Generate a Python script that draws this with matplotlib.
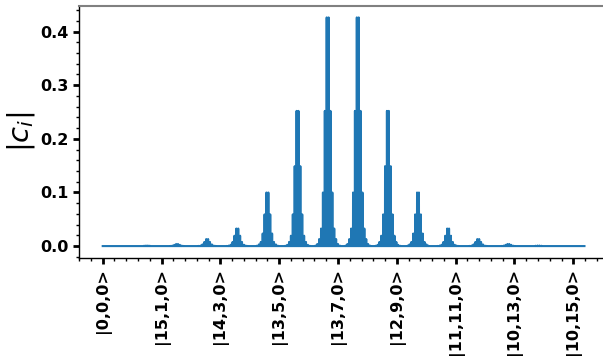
import numpy as np
import matplotlib
matplotlib.use("Agg")
import matplotlib.pyplot as plt
from matplotlib.ticker import AutoMinorLocator, MultipleLocator

# |c_i| for basis states |n1, n2, n3=0>, one row per n2 (0..15), entries over n1 (0..15)
abs_c_rows = [
    [0.0000, 0.0000, 0.0000, 0.0000, 0.0000, 0.0000, 0.0001, 0.0002, 0.0002, 0.0001, 0.0000, 0.0000, 0.0000, 0.0000, 0.0000, 0.0000],
    [0.0000, 0.0000, 0.0000, 0.0000, 0.0001, 0.0002, 0.0006, 0.0010, 0.0010, 0.0006, 0.0002, 0.0001, 0.0000, 0.0000, 0.0000, 0.0000],
    [0.0000, 0.0000, 0.0000, 0.0001, 0.0003, 0.0009, 0.0023, 0.0039, 0.0039, 0.0023, 0.0009, 0.0003, 0.0001, 0.0000, 0.0000, 0.0000],
    [0.0000, 0.0000, 0.0001, 0.0004, 0.0010, 0.0031, 0.0077, 0.0131, 0.0131, 0.0077, 0.0031, 0.0010, 0.0004, 0.0001, 0.0000, 0.0000],
    [0.0000, 0.0001, 0.0003, 0.0010, 0.0025, 0.0077, 0.0193, 0.0327, 0.0327, 0.0193, 0.0077, 0.0025, 0.0010, 0.0003, 0.0001, 0.0000],
    [0.0000, 0.0002, 0.0009, 0.0031, 0.0077, 0.0234, 0.0591, 0.0999, 0.0999, 0.0591, 0.0234, 0.0077, 0.0031, 0.0009, 0.0002, 0.0000],
    [0.0001, 0.0006, 0.0023, 0.0077, 0.0193, 0.0591, 0.1490, 0.2521, 0.2521, 0.1490, 0.0591, 0.0193, 0.0077, 0.0023, 0.0006, 0.0001],
    [0.0002, 0.0010, 0.0039, 0.0131, 0.0327, 0.0999, 0.2521, 0.4264, 0.4264, 0.2521, 0.0999, 0.0327, 0.0131, 0.0039, 0.0010, 0.0002],
    [0.0002, 0.0010, 0.0039, 0.0131, 0.0327, 0.0999, 0.2521, 0.4264, 0.4264, 0.2521, 0.0999, 0.0327, 0.0131, 0.0039, 0.0010, 0.0002],
    [0.0001, 0.0006, 0.0023, 0.0077, 0.0193, 0.0591, 0.1490, 0.2521, 0.2521, 0.1490, 0.0591, 0.0193, 0.0077, 0.0023, 0.0006, 0.0001],
    [0.0000, 0.0002, 0.0009, 0.0031, 0.0077, 0.0234, 0.0591, 0.0999, 0.0999, 0.0591, 0.0234, 0.0077, 0.0031, 0.0009, 0.0002, 0.0000],
    [0.0000, 0.0001, 0.0003, 0.0010, 0.0025, 0.0077, 0.0193, 0.0327, 0.0327, 0.0193, 0.0077, 0.0025, 0.0010, 0.0003, 0.0001, 0.0000],
    [0.0000, 0.0000, 0.0001, 0.0004, 0.0010, 0.0031, 0.0077, 0.0131, 0.0131, 0.0077, 0.0031, 0.0010, 0.0004, 0.0001, 0.0000, 0.0000],
    [0.0000, 0.0000, 0.0000, 0.0001, 0.0003, 0.0009, 0.0023, 0.0039, 0.0039, 0.0023, 0.0009, 0.0003, 0.0001, 0.0000, 0.0000, 0.0000],
    [0.0000, 0.0000, 0.0000, 0.0000, 0.0001, 0.0002, 0.0006, 0.0010, 0.0010, 0.0006, 0.0002, 0.0001, 0.0000, 0.0000, 0.0000, 0.0000],
    [0.0000, 0.0000, 0.0000, 0.0000, 0.0000, 0.0000, 0.0001, 0.0002, 0.0002, 0.0001, 0.0000, 0.0000, 0.0000, 0.0000, 0.0000, 0.0000],
]
# third mode occupation amplitudes (only n3 = 0 populated)
n3_weights = [1.0] + [0.0] * 15

tick_index = [0, 31.25, 62.5, 93.75, 125, 156.25, 187.5, 218.75, 250]
tick_labels = ["|0,0,0>", "|15,1,0>", "|14,3,0>", "|13,5,0>", "|13,7,0>",
               "|12,9,0>", "|11,11,0>", "|10,13,0>", "|10,15,0>"]
y_ticks = [0.0, 0.1, 0.2, 0.3, 0.4]

# full basis |n1,n2,n3> with n3 varying fastest
full = np.array(abs_c_rows)[:, :, None] * np.array(n3_weights)[None, None, :]
values = full.ravel()
dim3 = len(n3_weights)
xpos = np.arange(values.size) / dim3

fig = plt.figure(figsize=(6.03, 3.62), dpi=100)
ax = fig.add_axes([78.7 / 603, (362 - 257.5) / 362, 528 / 603, 251.5 / 362])

ax.plot(xpos, values, color='#1f77b4', linewidth=1.5)

ax.set_xlim(-12.75, 267.75)
ax.set_ylim(-0.0213, 0.4477)

ax.set_xticks(tick_index)
ax.set_xticklabels(tick_labels, rotation=90, fontsize=11.5, fontweight='bold')
ax.xaxis.set_minor_locator(AutoMinorLocator(5))
ax.set_yticks(y_ticks)
ax.set_yticklabels([f"{v:.1f}" for v in y_ticks], fontsize=11.5, fontweight='bold')
ax.yaxis.set_minor_locator(MultipleLocator(0.02))

ax.tick_params(which='major', direction='out', length=4, width=2)
ax.tick_params(which='minor', direction='out', length=2, width=1)

ax.spines['right'].set_visible(False)
ax.spines['top'].set_color('#808080')
ax.spines['top'].set_linewidth(1.5)
ax.spines['left'].set_linewidth(1.0)
ax.spines['bottom'].set_linewidth(1.0)

ax.set_ylabel(r'$|c_i|$', fontsize=21, labelpad=2)

fig.savefig('out.png', dpi=100)
